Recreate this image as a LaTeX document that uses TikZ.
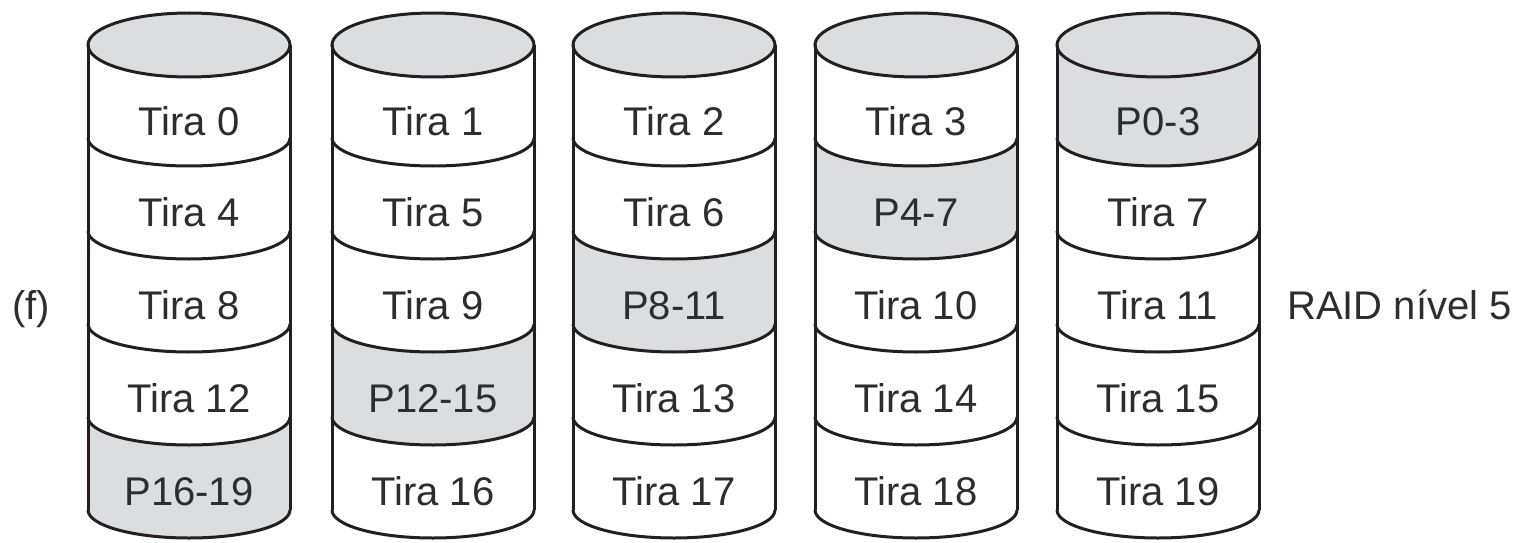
\documentclass[tikz,border=0pt]{standalone}
\usepackage{fontspec}
\setmainfont{Liberation Sans}
\definecolor{diskgray}{RGB}{220,221,223}
\definecolor{ink}{RGB}{35,31,32}
\definecolor{textink}{RGB}{45,45,45}
\tikzset{
  outline/.style={draw=ink, line width=3pt},
  stripelabel/.style={text=textink, font=\fontsize{40}{48}\selectfont,
    inner sep=0pt, text height=28.6pt, text depth=0pt, anchor=center},
  sidelabel/.style={text=textink, font=\fontsize{40}{48}\selectfont,
    inner sep=0pt, text height=28.6pt, text depth=0pt},
}
\begin{document}
\begin{tikzpicture}[x=1pt,y=1pt]
\fill[white] (0,0) rectangle (1522,542);
\useasboundingbox (0,0) rectangle (1522,542);

% disk index / centre x / label of each stripe, top to bottom
\foreach \d/\cx/\la/\lb/\lc/\ld/\le in {
  0/189/Tira 0/Tira 4/Tira 8/Tira 12/P16-19,
  1/433/Tira 1/Tira 5/Tira 9/P12-15/Tira 16,
  2/674/Tira 2/Tira 6/P8-11/Tira 13/Tira 17,
  3/916/Tira 3/P4-7/Tira 10/Tira 14/Tira 18,
  4/1158/P0-3/Tira 7/Tira 11/Tira 15/Tira 19} {
  % parity stripe rotates one step up per disk
  \pgfmathtruncatemacro\g{4-\d}
  \pgfmathsetmacro\ya{497-93*\g}
  \pgfmathsetmacro\yb{\ya-93}
  \pgfmathsetmacro\ru{\g==0 ? 32 : 28}
  \fill[diskgray] (\cx-101,\ya) -- (\cx-101,\yb)
    arc[start angle=180, end angle=360, x radius=101pt, y radius=28pt]
    -- (\cx+101,\ya)
    arc[start angle=360, end angle=180, x radius=101pt, y radius=\ru pt] -- cycle;
  % top face
  \filldraw[outline, fill=diskgray] (\cx,497) ellipse[x radius=101pt, y radius=32pt];
  % sides
  \draw[outline] (\cx-101,497) -- (\cx-101,32);
  \draw[outline] (\cx+101,497) -- (\cx+101,32);
  % stripe boundaries and bottom rim
  \foreach \k in {1,...,5} {
    \pgfmathsetmacro\yk{497-93*\k}
    \draw[outline] (\cx-101,\yk)
      arc[start angle=180, end angle=360, x radius=101pt, y radius=28pt];
  }
  % stripe labels
  \node[stripelabel] (d\d s0) at (\cx, 420.5) {\la};
  \node[stripelabel] (d\d s1) at (\cx, 329.5) {\lb};
  \node[stripelabel] (d\d s2) at (\cx, 236.5) {\lc};
  \node[stripelabel] (d\d s3) at (\cx, 143.5) {\ld};
  \node[stripelabel] (d\d s4) at (\cx, 50.5) {\le};
}

\node[sidelabel, anchor=center] (tag) at (31,237) {(f)};
\node[sidelabel, anchor=west] (level) at (1287,237) {RAID nível 5};
\end{tikzpicture}
\end{document}
